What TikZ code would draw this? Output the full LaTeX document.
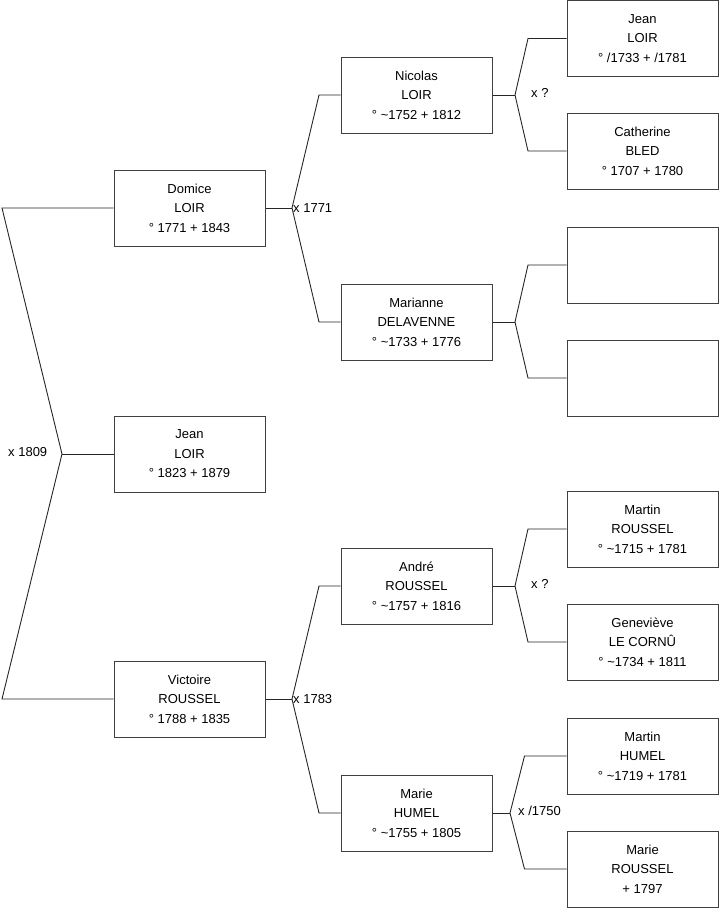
\documentclass[tikz,border=0pt]{standalone}
\usepackage{fontspec}
\setmainfont{Liberation Sans}
\begin{document}
\begin{tikzpicture}[x=1pt,y=-1pt,
    person/.style={draw=black!75, line width=1pt, minimum width=151pt, minimum height=76pt,
      inner sep=0pt, align=center, font=\fontsize{13}{19.5}\selectfont},
    link/.style={draw=black!85, line width=0.9pt},
    tag/.style={font=\fontsize{13}{15}\selectfont, inner sep=0pt, anchor=west}]

    \useasboundingbox (0,0) rectangle (719,908);

    % Generation 1
    \node[person] (jean) at (189.5,454) {Jean\\LOIR\\° 1823 + 1879};
    \node[person] (domice) at (189.5,208) {Domice\\LOIR\\° 1771 + 1843};
    \node[person] (victoire) at (189.5,699) {Victoire\\ROUSSEL\\° 1788 + 1835};

    % Generation 2
    \node[person] (nicolas) at (416.5,95) {Nicolas\\LOIR\\° \textasciitilde1752 + 1812};
    \node[person] (marianne) at (416.5,322) {Marianne\\DELAVENNE\\° \textasciitilde1733 + 1776};
    \node[person] (andre) at (416.5,586) {André\\ROUSSEL\\° \textasciitilde1757 + 1816};
    \node[person] (marie) at (416.5,813) {Marie\\HUMEL\\° \textasciitilde1755 + 1805};

    % Generation 3
    \node[person] (jeanL) at (642.5,38.5) {Jean\\LOIR\\° /1733 + /1781};
    \node[person] (catherine) at (642.5,151) {Catherine\\BLED\\° 1707 + 1780};
    \node[person] (blankA) at (642.5,265) {};
    \node[person] (blankB) at (642.5,378) {};
    \node[person] (martinR) at (642.5,529) {Martin\\ROUSSEL\\° \textasciitilde1715 + 1781};
    \node[person] (genevieve) at (642.5,642) {Geneviève\\LE CORNÛ\\° \textasciitilde1734 + 1811};
    \node[person] (martinH) at (642.5,756) {Martin\\HUMEL\\° \textasciitilde1719 + 1781};
    \node[person] (marieR) at (642.5,869) {Marie\\ROUSSEL\\+ 1797};

    % Fork points
    \coordinate (mJean) at (62,454);
    \coordinate (leftX) at (2,0);
    \coordinate (mDomice) at (292,208);
    \coordinate (mVictoire) at (292,699);
    \coordinate (colB) at (319,0);
    \coordinate (mNicolas) at (515,95);
    \coordinate (mMarianne) at (515,322);
    \coordinate (mAndre) at (515,586);
    \coordinate (mMarie) at (510,813);
    \coordinate (colC) at (528,0);

    % Parents of Jean
    \draw[link] (jean.west) -- (mJean);
    \draw[link] (domice.west) -- (domice.west -| leftX) -- (mJean)
      -- (victoire.west -| leftX) -- (victoire.west);
    \node[tag] (tJean) at (8,452) {x 1809};

    % Parents of Domice and Victoire
    \draw[link] (domice.east) -- (mDomice);
    \draw[link] (nicolas.west) -- (nicolas.west -| colB) -- (mDomice)
      -- (marianne.west -| colB) -- (marianne.west);
    \node[tag] (tDomice) at (293,208) {x 1771};

    \draw[link] (victoire.east) -- (mVictoire);
    \draw[link] (andre.west) -- (andre.west -| colB) -- (mVictoire)
      -- (marie.west -| colB) -- (marie.west);
    \node[tag] (tVictoire) at (293,699) {x 1783};

    % Generation 3 links
    \draw[link] (nicolas.east) -- (mNicolas);
    \draw[link] (jeanL.west) -- (jeanL.west -| colC) -- (mNicolas)
      -- (catherine.west -| colC) -- (catherine.west);
    \node[tag] (tNicolas) at (531,93) {x ?};

    \draw[link] (marianne.east) -- (mMarianne);
    \draw[link] (blankA.west) -- (blankA.west -| colC) -- (mMarianne)
      -- (blankB.west -| colC) -- (blankB.west);

    \draw[link] (andre.east) -- (mAndre);
    \draw[link] (martinR.west) -- (martinR.west -| colC) -- (mAndre)
      -- (genevieve.west -| colC) -- (genevieve.west);
    \node[tag] (tAndre) at (531,584) {x ?};

    \draw[link] (marie.east) -- (mMarie);
    \draw[link] (martinH.west) -- ([xshift=-42pt]martinH.west) -- (mMarie)
      -- ([xshift=-42pt]marieR.west) -- (marieR.west);
    \node[tag] (tMarie) at (518,811) {x /1750};
\end{tikzpicture}
\end{document}
